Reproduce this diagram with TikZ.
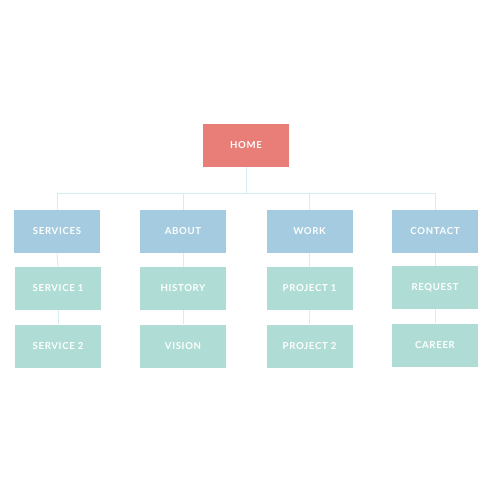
\documentclass[tikz,border=0pt]{standalone}
\usepackage{fontspec}
\setmainfont{Lato}[LetterSpace=7]
\definecolor{homec}{HTML}{E97D77}
\definecolor{bluec}{HTML}{A4CBDF}
\definecolor{greenc}{HTML}{AFDDD5}
\definecolor{linec}{HTML}{D6EDF0}
\begin{document}
\begin{tikzpicture}[x=1pt,y=-1pt,
  box/.style={minimum width=86pt,minimum height=43pt,inner sep=0pt,text height=6.9pt,text depth=0pt,text=white,font=\fontsize{9.6}{10}\selectfont\bfseries},
  homebox/.style={box,fill=homec},
  topbox/.style={box,fill=bluec},
  subbox/.style={box,fill=greenc},
  conn/.style={draw=linec,line width=1pt}]
\useasboundingbox (0,0) rectangle (492,492);
\node[homebox] (home) at (246,145.5) {HOME};
\node[topbox] (services) at (57,231.5) {SERVICES};
\node[topbox] (about) at (183,231.5) {ABOUT};
\node[topbox] (work) at (309.5,231.5) {WORK};
\node[topbox] (contact) at (435,231.5) {CONTACT};
\node[subbox] (s1) at (58,288.5) {SERVICE 1};
\node[subbox] (s2) at (58,346) {SERVICE 2};
\node[subbox] (h) at (183,288.5) {HISTORY};
\node[subbox] (v) at (183,346) {VISION};
\node[subbox] (p1) at (309.5,288.5) {PROJECT 1};
\node[subbox] (p2) at (309.5,346) {PROJECT 2};
\node[subbox] (r) at (435,287.5) {REQUEST};
\node[subbox] (c) at (435,345) {CAREER};
\coordinate (bus) at (246,193);
\draw[conn] (home.south) -- (bus);
\draw[conn] (bus) -| (services.north);
\draw[conn] (bus) -| (about.north);
\draw[conn] (bus) -| (work.north);
\draw[conn] (bus) -| (contact.north);
\draw[conn] (services.south) -- (s1.north);
\draw[conn] (s1.south) -- (s2.north);
\draw[conn] (about.south) -- (h.north);
\draw[conn] (h.south) -- (v.north);
\draw[conn] (work.south) -- (p1.north);
\draw[conn] (p1.south) -- (p2.north);
\draw[conn] (contact.south) -- (r.north);
\draw[conn] (r.south) -- (c.north);
\end{tikzpicture}
\end{document}
